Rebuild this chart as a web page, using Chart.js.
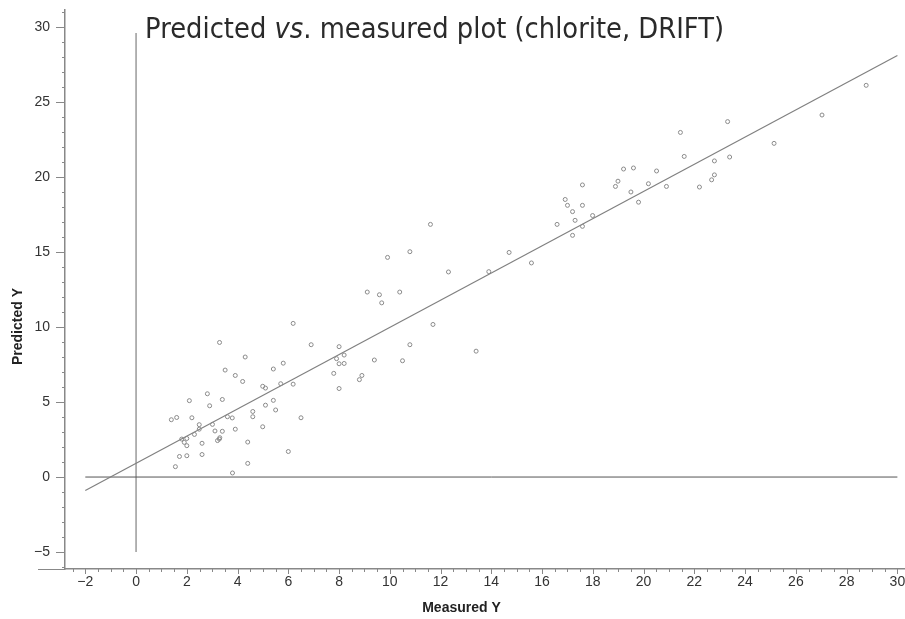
<!DOCTYPE html>
<html>
<head>
<meta charset="utf-8">
<script src="https://cdn.jsdelivr.net/npm/chart.js@4/dist/chart.umd.min.js"></script>
<style>
  html, body { margin: 0; padding: 0; background: #fff; }
  #wrap { width: 905px; height: 619px; position: relative; }
</style>
</head>
<body>
<div id="wrap"><canvas id="plot"></canvas></div>
<script>
// measured vs predicted
var measured = [1.39, 1.60, 1.55, 1.71, 1.80, 1.90, 2.00, 2.00, 2.00, 2.10,
  2.20, 2.30, 2.49, 2.49, 2.60, 2.60, 2.81, 2.90, 3.01, 3.11,
  3.21, 3.28, 3.30, 3.29, 3.40, 3.40, 3.51, 3.60, 3.79, 3.80,
  3.91, 3.91, 4.20, 4.30, 4.40, 4.40, 4.60, 4.60, 4.99, 5.10,
  4.99, 5.10, 5.41, 5.41, 5.50, 5.70, 5.80, 6.00, 6.19, 6.19,
  6.50, 6.90, 7.79, 7.90, 8.00, 8.00, 8.00, 8.20, 8.20, 8.80,
  8.90, 9.11, 9.39, 9.59, 9.68, 9.91, 10.39, 10.50, 10.79, 10.79,
  11.60, 11.70, 12.31, 13.40, 13.90, 14.70, 15.58, 16.59, 16.91, 17.00,
  17.20, 17.20, 17.30, 17.59, 17.59, 17.59, 17.99, 18.89, 18.99, 19.21,
  19.50, 19.60, 19.80, 20.19, 20.51, 20.90, 21.45, 21.60, 22.20, 22.68,
  22.79, 22.79, 23.31, 23.39, 25.14, 27.03, 28.77]
var predicted = [3.82, 3.97, 0.69, 1.37, 2.53, 2.31, 2.09, 2.57, 1.42, 5.09,
  3.95, 2.84, 3.49, 3.19, 2.25, 1.50, 5.55, 4.75, 3.51, 3.07,
  2.43, 2.53, 2.62, 8.97, 5.17, 3.05, 7.13, 4.02, 3.94, 0.27,
  6.77, 3.19, 6.37, 8.00, 2.33, 0.91, 4.37, 4.02, 6.05, 5.93,
  3.35, 4.79, 7.20, 5.11, 4.47, 6.22, 7.59, 1.70, 10.24, 6.19,
  3.95, 8.82, 6.91, 7.89, 8.69, 7.55, 5.90, 8.13, 7.57, 6.49,
  6.77, 12.33, 7.80, 12.15, 11.61, 14.64, 12.33, 7.75, 15.02, 8.82,
  16.84, 10.17, 13.67, 8.39, 13.69, 14.97, 14.27, 16.84, 18.50, 18.11,
  17.69, 16.11, 17.11, 19.47, 18.11, 16.71, 17.43, 19.37, 19.72, 20.53,
  19.00, 20.60, 18.32, 19.55, 20.40, 19.37, 22.97, 21.37, 19.33, 19.81,
  20.14, 21.07, 23.69, 21.33, 22.24, 24.13, 26.11]

// regression line and the two zero lines
var fitX = [-2, 30]
var fitY = [-0.9, 28.1]
var zeroHX = [-2, 30]
var zeroHY = [0, 0]
var zeroVX = [0, 0]
var zeroVY = [-5, 29.6]

var xTicks = [-2, 0, 2, 4, 6, 8, 10, 12, 14, 16, 18, 20, 22, 24, 26, 28, 30]
var yTicks = [-5, 0, 5, 10, 15, 20, 25, 30]

var titleText = ['Predicted ', 'vs', '. measured plot (chlorite, DRIFT)']
var xTitle = 'Measured Y'
var yTitle = 'Predicted Y'

function pairs(xs, ys){
    var out = []
    for (var i = 0; i < xs.length; i++) out.push({x: xs[i], y: ys[i]})
    return out
}

function minusSign(v){
    return String(v).replace('-', '\u2212')
}

// no extra room for the end labels, the 30 may run off the edge
function noPad(s){
    s.paddingTop = 0
    s.paddingBottom = 0
    s.paddingLeft = 0
    s.paddingRight = 0
}

var extras = {
    id: 'extras',
    afterDraw: function(chart){
        var c = chart.ctx, a = chart.chartArea
        var xs = chart.scales.x, ys = chart.scales.y
        c.save()
        c.strokeStyle = '#888'
        c.lineWidth = 1
        c.beginPath()
        // the x axis line sticks out a little left of the y axis
        c.moveTo(a.left - 27, a.bottom + 0.5)
        c.lineTo(a.left, a.bottom + 0.5)
        // x ticks every 0.5, long ones at the labels
        for (var i = -5; i <= 60; i++){
            var px = Math.round(xs.getPixelForValue(i / 2)) + 0.5
            var len = (i % 4 === 0) ? 5 : 3
            c.moveTo(px, a.bottom)
            c.lineTo(px, a.bottom + len)
        }
        // y ticks every 1, long ones at the labels
        for (var j = -6; j <= 31; j++){
            var py = Math.round(ys.getPixelForValue(j)) + 0.5
            var l = (j % 5 === 0) ? 9 : 3
            c.moveTo(a.left, py)
            c.lineTo(a.left - l, py)
        }
        c.stroke()

        // axis titles
        c.fillStyle = '#222'
        c.font = 'bold 14px "Liberation Sans", Arial, sans-serif'
        c.textAlign = 'center'
        c.textBaseline = 'middle'
        c.fillText(xTitle, chart.width / 2 + 9, 608)
        c.save()
        c.translate(18, chart.height / 2 + 17)
        c.rotate(-Math.PI / 2)
        c.fillText(yTitle, 0, 0)
        c.restore()

        // title, with the italic "vs"
        var x0 = xs.getPixelForValue(0) + 9
        var base = 38
        var fonts = ['28px "DejaVu Sans"', 'italic 28px "DejaVu Sans"', '28px "DejaVu Sans"']
        var w = 0
        for (var k = 0; k < titleText.length; k++){
            c.font = fonts[k]
            w += c.measureText(titleText[k]).width
        }
        c.textAlign = 'left'
        c.textBaseline = 'alphabetic'
        c.translate(x0, base)
        c.scale(579 / w, 1)
        c.fillStyle = '#2a2a2a'
        var cx = 0
        for (var m = 0; m < titleText.length; m++){
            c.font = fonts[m]
            c.fillText(titleText[m], cx, 0)
            cx += c.measureText(titleText[m]).width
        }
        c.restore()
    }
}

var tickFont = {family: '"Liberation Sans", Arial, sans-serif', size: 14}

var chart = new Chart(document.getElementById('plot'), {
    type: 'scatter',
    data: {
        datasets: [
            {
                label: 'samples',
                data: pairs(measured, predicted),
                pointRadius: 2,
                pointBorderWidth: 1,
                pointBorderColor: '#8a8a8a',
                pointBackgroundColor: 'rgba(255,255,255,0)',
                order: 0
            },
            {
                label: 'fit',
                type: 'line',
                data: pairs(fitX, fitY),
                borderColor: '#808080',
                borderWidth: 1.2,
                pointRadius: 0,
                order: 1
            },
            {
                label: 'y0',
                type: 'line',
                data: pairs(zeroHX, zeroHY),
                borderColor: '#555',
                borderWidth: 1,
                pointRadius: 0,
                order: 2
            },
            {
                label: 'x0',
                type: 'line',
                data: pairs(zeroVX, zeroVY),
                borderColor: '#9a9a9a',
                borderWidth: 1.5,
                pointRadius: 0,
                order: 3
            }
        ]
    },
    options: {
        responsive: true,
        maintainAspectRatio: false,
        animation: false,
        events: [],
        layout: {autoPadding: false, padding: {top: 10, right: 0, left: 0, bottom: 0}},
        plugins: {
            legend: {display: false},
            tooltip: {enabled: false}
        },
        scales: {
            x: {
                type: 'linear',
                min: -2.8,
                max: 30.3,
                afterFit: function(s){ s.height = 50; noPad(s) },
                afterBuildTicks: function(s){ s.ticks = xTicks.map(function(v){ return {value: v} }) },
                grid: {drawOnChartArea: false, drawTicks: false},
                border: {color: '#888', width: 1.5},
                ticks: {
                    font: tickFont,
                    color: '#333',
                    padding: 5,
                    maxRotation: 0,
                    autoSkip: false,
                    callback: function(v){ return minusSign(v) }
                }
            },
            y: {
                type: 'linear',
                min: -6.13,
                max: 31.13,
                afterFit: function(s){ s.width = 65; noPad(s) },
                afterBuildTicks: function(s){ s.ticks = yTicks.map(function(v){ return {value: v} }) },
                grid: {drawOnChartArea: false, drawTicks: false},
                border: {color: '#888', width: 1.5},
                ticks: {
                    font: tickFont,
                    color: '#333',
                    padding: 15,
                    autoSkip: false,
                    callback: function(v){ return minusSign(v) }
                }
            }
        }
    },
    plugins: [extras]
})
</script>
</body>
</html>
